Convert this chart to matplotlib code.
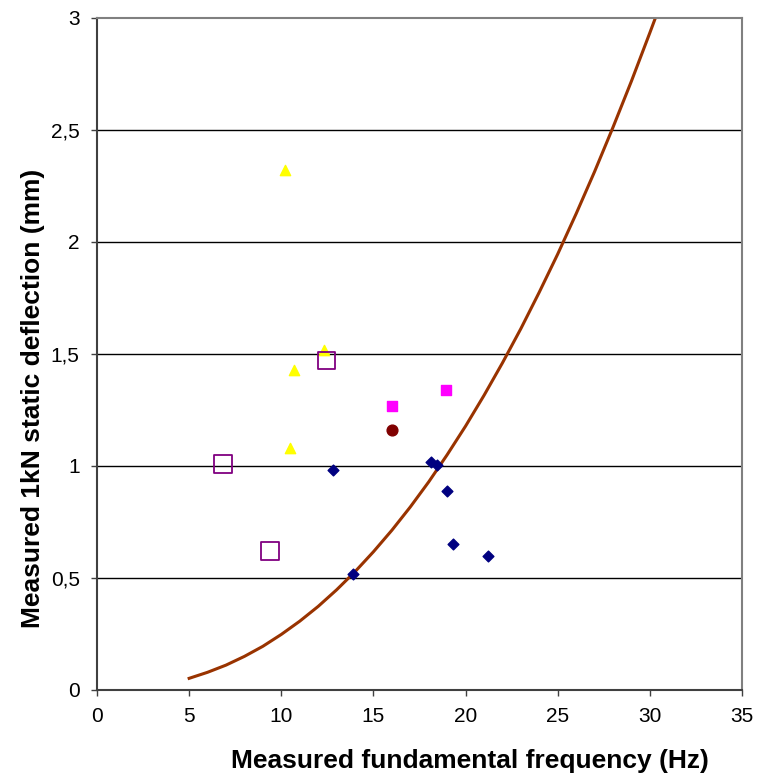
import matplotlib.pyplot as plt
from matplotlib.ticker import FuncFormatter

# measured points
diamond_f = [12.8, 13.9, 18.1, 18.45, 19.0, 19.3, 21.2]
diamond_d = [0.98, 0.52, 1.02, 1.005, 0.89, 0.65, 0.60]

triangle_f = [10.2, 10.7, 12.3, 10.5]
triangle_d = [2.32, 1.43, 1.52, 1.08]

open_sq_f = [6.85, 9.4, 12.45]
open_sq_d = [1.01, 0.62, 1.47]

magenta_f = [16.0, 18.95]
magenta_d = [1.27, 1.34]

circle_f = [16.0]
circle_d = [1.16]

# limit curve
curve_f = [5, 6, 7, 8, 9, 10, 11, 12, 13, 14, 15, 16, 17, 18, 19, 20,
           21, 22, 23, 24, 25, 26, 27, 28, 29, 30, 30.3]
curve_d = [0.052, 0.079, 0.111, 0.150, 0.195, 0.248, 0.307, 0.373, 0.447,
           0.528, 0.617, 0.713, 0.817, 0.929, 1.050, 1.178, 1.315, 1.460,
           1.613, 1.776, 1.946, 2.126, 2.314, 2.512, 2.718, 2.934, 3.0]

plt.rcParams['font.family'] = ['Liberation Sans', 'DejaVu Sans']

fig = plt.figure(figsize=(7.59, 7.75), dpi=100)
ax = fig.add_axes([0.1278, 0.1097, 0.8498, 0.8671])

for y in [0.5, 1, 1.5, 2, 2.5]:
    ax.axhline(y, color='black', lw=1, zorder=1)

ax.plot(curve_f, curve_d, color='#993300', lw=2.2, zorder=2,
        solid_joinstyle='round')

ax.scatter(diamond_f, diamond_d, marker='D', s=30, color='#000080', zorder=3)
ax.scatter(triangle_f, triangle_d, marker='^', s=55, color='#ffff00', zorder=3)
ax.scatter(open_sq_f, open_sq_d, marker='s', s=160, facecolor='none',
           edgecolor='#800080', linewidths=1.3, zorder=3)
ax.scatter(magenta_f, magenta_d, marker='s', s=60, color='#ff00ff', zorder=3)
ax.scatter(circle_f, circle_d, marker='o', s=60, color='#800000', zorder=3)

ax.set_xlim(0, 35)
ax.set_ylim(0, 3)
ax.set_xticks(range(0, 36, 5))
ax.set_yticks([0, 0.5, 1, 1.5, 2, 2.5, 3])
ax.yaxis.set_major_formatter(FuncFormatter(lambda v, p: ('%g' % v).replace('.', ',')))

for s in ax.spines.values():
    s.set_color('#808080')
    s.set_linewidth(1.5)
ax.spines['left'].set_color('#404040')
ax.spines['bottom'].set_color('#404040')
ax.tick_params(direction='out', length=4.5, width=1, color='#404040',
               labelsize=15, pad=8)

ax.set_xlabel('Measured fundamental frequency (Hz)', fontsize=19,
              fontweight='bold')
ax.set_ylabel('Measured 1kN static deflection (mm)', fontsize=19,
              fontweight='bold')
ax.xaxis.set_label_coords(0.578, -0.088)
ax.yaxis.set_label_coords(-0.081, 0.4345)

fig.savefig('out.png', dpi=100)
